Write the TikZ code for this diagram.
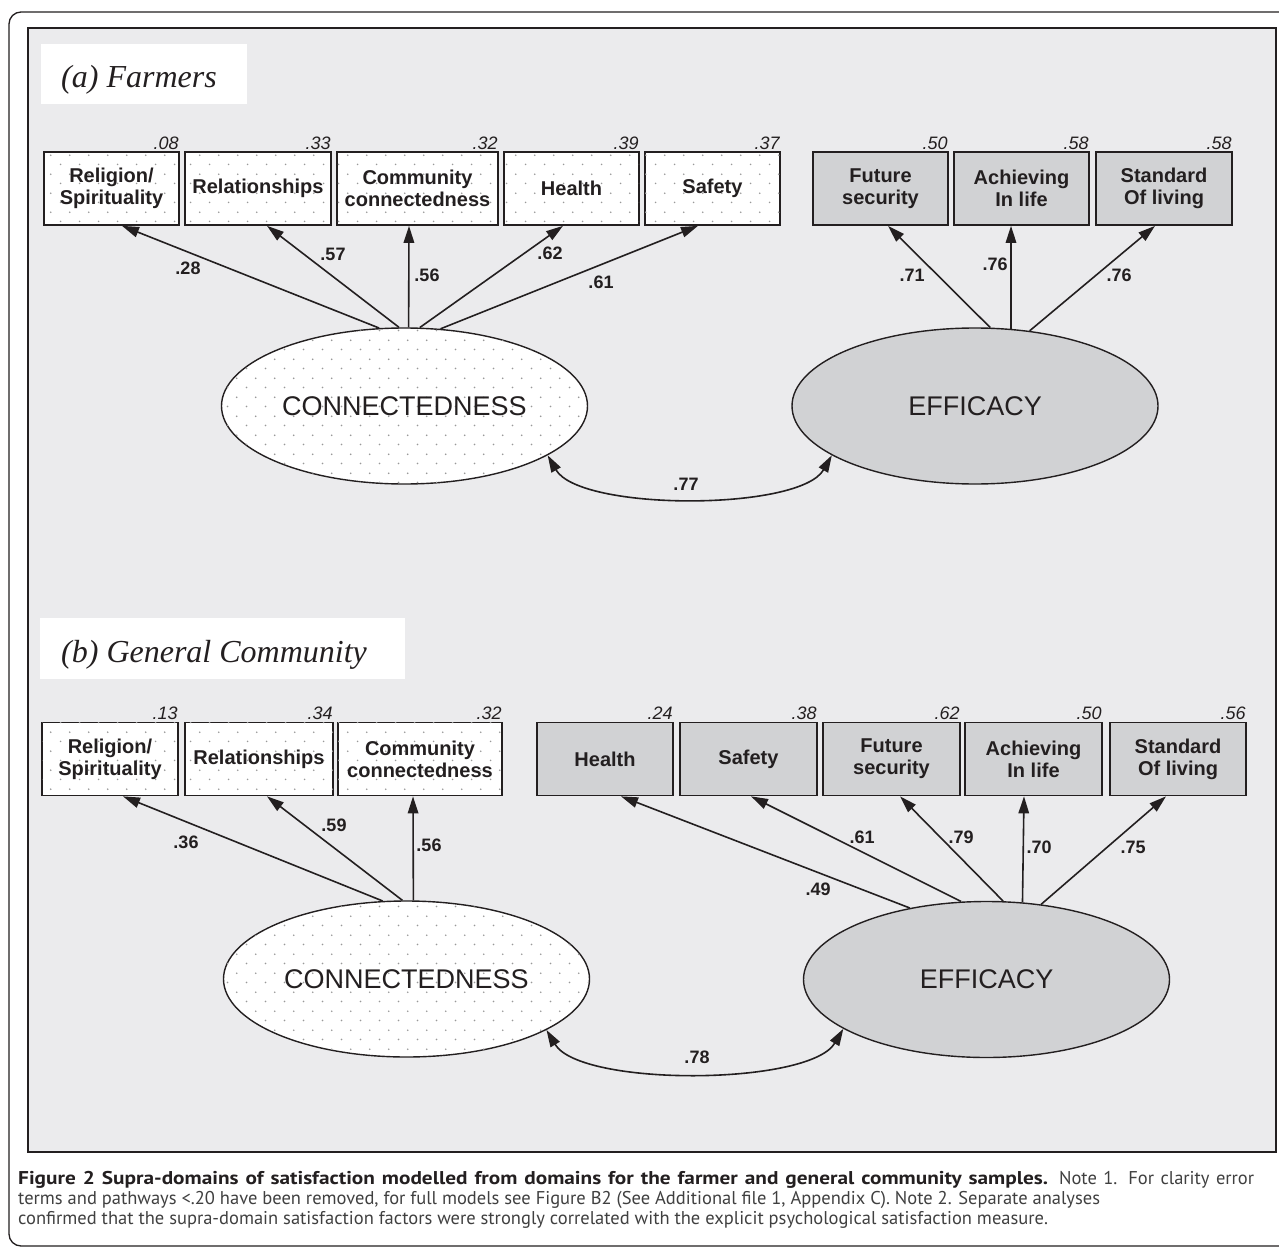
\documentclass[tikz,border=0pt]{standalone}
\usepackage{fontspec}
\setmainfont{Liberation Sans}
\newfontfamily\serifit{Liberation Serif}
\newfontfamily\capfont{PT Sans}[BoldFeatures={FakeStretch=1.15}]
\usetikzlibrary{shapes.geometric,arrows.meta,patterns,calc}
\definecolor{ink}{HTML}{231F20}
\definecolor{panel}{HTML}{EBEBED}
\definecolor{effgray}{HTML}{D1D2D4}
\definecolor{dotgray}{HTML}{999999}
\definecolor{capgray}{HTML}{404040}
\pgfdeclarepatternformonly{stagdots}{\pgfqpoint{0pt}{0pt}}{\pgfqpoint{18.6pt}{18.6pt}}{\pgfqpoint{18.6pt}{18.6pt}}{%
  \pgfpathcircle{\pgfqpoint{4.65pt}{4.65pt}}{0.9pt}%
  \pgfpathcircle{\pgfqpoint{13.95pt}{13.95pt}}{0.9pt}%
  \pgfusepath{fill}}
\begin{document}
\begin{tikzpicture}[x=1pt,y=-1pt,
  >={Triangle[length=17pt,width=10.5pt]},
  box/.style={draw=ink, line width=1.7pt, minimum height=73pt, inner sep=0pt, align=center, text=ink, font=\fontsize{20}{22}\selectfont\bfseries},
  connfill/.style={fill=white, postaction={pattern=stagdots, pattern color=dotgray}},
  connbox/.style={box, connfill},
  effbox/.style={box, fill=effgray},
  latent/.style={ellipse, draw=ink, line width=1.4pt, minimum width=366pt, minimum height=156pt, inner sep=0pt, text=ink, font=\fontsize{27}{27}\selectfont},
  connlat/.style={latent, connfill},
  efflat/.style={latent, fill=effgray},
  rsq/.style={anchor=base east, inner sep=0pt, text=ink, font=\fontsize{18}{18}\selectfont\itshape},
  coef/.style={inner sep=0pt, text=ink, font=\fontsize{18}{18}\selectfont\bfseries},
  load/.style={draw=ink, line width=1.6pt, ->},
  cov/.style={draw=ink, line width=1.6pt, <->},
  titlefont/.style={anchor=base west, inner sep=0pt, text=ink, font=\serifit\itshape\fontsize{32}{32}\selectfont},
  captext/.style={anchor=base west, inner sep=0pt, text=capgray, font=\capfont\fontsize{18.5}{20}\selectfont}
]
\useasboundingbox (0,0) rectangle (1279,1249);
\clip (0,0) rectangle (1279,1249);
\fill[white] (0,0) rectangle (1279,1249);
% outer frame and panel
\draw[ink, line width=1.3pt, rounded corners=12pt] (9,12) rectangle (1300,1246);
\draw[ink, line width=2pt, fill=panel] (28,28) rectangle (1276,1152);

% ---------- (a) Farmers ----------
\fill[white] (41,44) rectangle (247,104);
\node[titlefont] (ta) at (61,88) {(a) Farmers};

\node[connbox, minimum width=135pt] (ca1) at (111.5,188.5) {Religion/\\Spirituality};
\node[connbox, minimum width=146pt] (ca2) at (258,188.5) {Relationships};
\node[connbox, minimum width=161pt] (ca3) at (417.5,188.5) {Community\\connectedness};
\node[connbox, minimum width=135pt] (ca4) at (571.5,188.5) {Health};
\node[connbox, minimum width=135pt] (ca5) at (712.5,188.5) {Safety};
\node[effbox, minimum width=135pt] (ea1) at (880.5,188.5) {Future\\security};
\node[effbox, minimum width=135pt] (ea2) at (1021.5,188.5) {Achieving\\In life};
\node[effbox, minimum width=136pt] (ea3) at (1164,188.5) {Standard\\Of living};

\node[rsq] (rca1) at ($(ca1.north east)+(-1,-2)$) {.08};
\node[rsq] (rca2) at ($(ca2.north east)+(-1,-2)$) {.33};
\node[rsq] (rca3) at ($(ca3.north east)+(-1,-2)$) {.32};
\node[rsq] (rca4) at ($(ca4.north east)+(-1,-2)$) {.39};
\node[rsq] (rca5) at ($(ca5.north east)+(-1,-2)$) {.37};
\node[rsq] (rea1) at ($(ea1.north east)+(-1,-2)$) {.50};
\node[rsq] (rea2) at ($(ea2.north east)+(-1,-2)$) {.58};
\node[rsq] (rea3) at ($(ea3.north east)+(-1,-2)$) {.58};

\node[connlat] (la) at (404.5,406) {CONNECTEDNESS};
\node[efflat] (le) at (975,406) {EFFICACY};

\draw[load] (la.108) -- ($(ca1.south)+(10.5,0)$);
\draw[load] (la.94) -- ($(ca2.south)+(9,0)$);
\draw[load] (la.87) -- ($(ca3.south)+(-8.5,0)$);
\draw[load] (la.79) -- ($(ca4.south)+(-8.5,0)$);
\draw[load] (la.65) -- ($(ca5.south)+(-14.5,0)$);
\draw[load] (le.79) -- ($(ea1.south)+(7.5,0)$);
\draw[load] (le.65) -- ($(ea2.south)+(-10.5,0)$);
\draw[load] (le.54) -- ($(ea3.south)+(-9,0)$);
\draw[cov] (la.-19) .. controls +(32,56) and +(-32,56) .. (le.-161);

\node[coef] (ka1) at (188,268) {.28};
\node[coef] (ka2) at (333,254) {.57};
\node[coef] (ka3) at (427,275) {.56};
\node[coef] (ka4) at (550,253) {.62};
\node[coef] (ka5) at (601,282) {.61};
\node[coef] (ka6) at (912,275) {.71};
\node[coef] (ka7) at (995,264) {.76};
\node[coef] (ka8) at (1119,275) {.76};
\node[coef] (ka9) at (686,484) {.77};

% ---------- (b) General Community ----------
\fill[white] (40,618) rectangle (405,679);
\node[titlefont] (tb) at (61,662) {(b) General Community};

\node[connbox, minimum width=136pt] (cb1) at (110,759) {Religion/\\Spirituality};
\node[connbox, minimum width=148pt] (cb2) at (259,759) {Relationships};
\node[connbox, minimum width=164pt] (cb3) at (420,759) {Community\\connectedness};
\node[effbox, minimum width=136pt] (eb1) at (605,759) {Health};
\node[effbox, minimum width=137pt] (eb2) at (748.5,759) {Safety};
\node[effbox, minimum width=137pt] (eb3) at (891.5,759) {Future\\security};
\node[effbox, minimum width=137pt] (eb4) at (1033.5,759) {Achieving\\In life};
\node[effbox, minimum width=136pt] (eb5) at (1178,759) {Standard\\Of living};

\node[rsq] (rcb1) at ($(cb1.north east)+(-1,-2)$) {.13};
\node[rsq] (rcb2) at ($(cb2.north east)+(-1,-2)$) {.34};
\node[rsq] (rcb3) at ($(cb3.north east)+(-1,-2)$) {.32};
\node[rsq] (reb1) at ($(eb1.north east)+(-1,-2)$) {.24};
\node[rsq] (reb2) at ($(eb2.north east)+(-1,-2)$) {.38};
\node[rsq] (reb3) at ($(eb3.north east)+(-1,-2)$) {.62};
\node[rsq] (reb4) at ($(eb4.north east)+(-1,-2)$) {.50};
\node[rsq] (reb5) at ($(eb5.north east)+(-1,-2)$) {.56};

\node[connlat] (lb) at (406.5,979) {CONNECTEDNESS};
\node[efflat] (lf) at (986.5,979.5) {EFFICACY};

\draw[load] (lb.107) -- ($(cb1.south)+(13,0)$);
\draw[load] (lb.93) -- ($(cb2.south)+(8,0)$);
\draw[load] (lb.85) -- ($(cb3.south)+(-7,0)$);
\draw[load] (lf.137.6) -- ($(eb1.south)+(16,0)$);
\draw[load] (lf.108.7) -- ($(eb2.south)+(2.5,0)$);
\draw[load] (lf.78.8) -- ($(eb3.south)+(8.5,0)$);
\draw[load] (lf.65.1) -- ($(eb4.south)+(-9.5,0)$);
\draw[load] (lf.54) -- ($(eb5.south)+(-12,0)$);
\draw[cov] (lb.-20) .. controls +(34,57) and +(-34,57) .. (lf.-161);

\node[coef] (kb1) at (186,842) {.36};
\node[coef] (kb2) at (334,825) {.59};
\node[coef] (kb3) at (429,845) {.56};
\node[coef] (kb4) at (818,889) {.49};
\node[coef] (kb5) at (862,837) {.61};
\node[coef] (kb6) at (961,837) {.79};
\node[coef] (kb7) at (1039,847) {.70};
\node[coef] (kb8) at (1133,847) {.75};
\node[coef] (kb9) at (697,1057) {.78};

% ---------- caption ----------
\node[captext] (cap1) at (18,1184) {\makebox[1236pt][s]{\textcolor{ink}{\bfseries Figure 2 Supra-domains of satisfaction modelled from domains for the farmer and general community samples.} Note 1. For clarity error}};
\node[captext] (cap2) at (18,1204) {terms and pathways <.20 have been removed, for full models see Figure B2 (See Additional file 1, Appendix C). Note 2. Separate analyses};
\node[captext] (cap3) at (18,1224) {confirmed that the supra-domain satisfaction factors were strongly correlated with the explicit psychological satisfaction measure.};
\end{tikzpicture}
\end{document}
